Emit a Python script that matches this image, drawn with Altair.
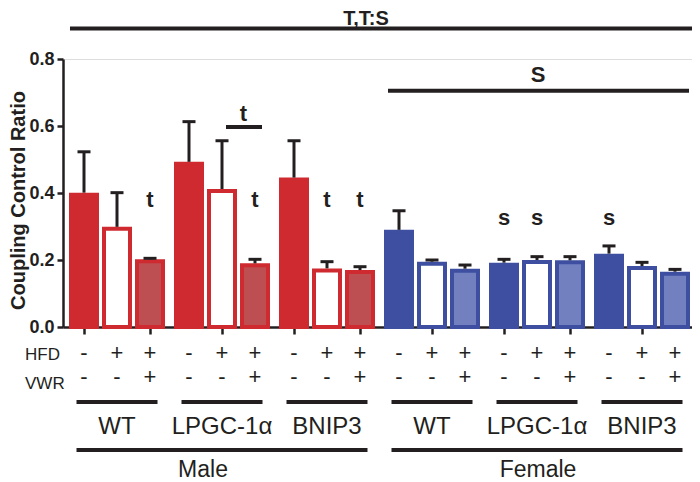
import altair as alt
import pandas as pd

# ---------------- data ----------------
sexes = ["Male", "Female"]
genotypes = ["WT", "LPGC-1α", "BNIP3"]
hfd_signs = ["-", "+", "+"]
vwr_signs = ["-", "-", "+"]

male_mean = [0.401, 0.299, 0.202, 0.493, 0.412, 0.190, 0.446, 0.175, 0.170]
male_sem = [0.122, 0.102, 0.003, 0.120, 0.144, 0.012, 0.110, 0.020, 0.010]
female_mean = [0.290, 0.195, 0.174, 0.192, 0.200, 0.199, 0.219, 0.182, 0.165]
female_sem = [0.057, 0.005, 0.011, 0.010, 0.010, 0.011, 0.023, 0.011, 0.007]

t_marks = [("Male", 2), ("Male", 5), ("Male", 7), ("Male", 8)]
s_marks = [("Female", 3), ("Female", 4), ("Female", 6)]

# ---------------- layout ----------------
RED, BLUE = "#cf2a2f", "#3e4fa1"
RED_HATCH, BLUE_HATCH = "#bd4e52", "#7380c0"
INK = "#231f20"
FONT = "Liberation Sans"
GROUP_STEP, BAR_STEP, X0, HALF = 105, 33, 21, 15
XMAX = 629
kinds = ["solid", "open", "hatch"]

rows = []
for s_i, sex in enumerate(sexes):
    means = male_mean if s_i == 0 else female_mean
    sems = male_sem if s_i == 0 else female_sem
    for g_i, gen in enumerate(genotypes):
        for b in range(3):
            k = g_i * 3 + b
            pos = X0 + (s_i * 3 + g_i) * GROUP_STEP + b * BAR_STEP
            rows.append(dict(
                pos=pos, xl=pos - HALF + 2, xr=pos + HALF - 2,
                mean=means[k], ytop=means[k] - 0.006, top=means[k] + sems[k],
                capl=pos - 6.5, capr=pos + 6.5,
                sex=sex, gen=gen, idx=k, kind=kinds[b],
                fillkey=f"{sex}-{kinds[b]}",
                hfd=hfd_signs[b], vwr=vwr_signs[b],
            ))
df = pd.DataFrame(rows)

xscale = alt.Scale(domain=[0, XMAX], nice=False, zero=False)
yscale = alt.Scale(domain=[0, 0.8], nice=False, zero=False)

fill_dom = ["Male-solid", "Male-open", "Male-hatch", "Female-solid", "Female-open", "Female-hatch"]
fill_rng = [RED, "white", RED_HATCH, BLUE, "white", BLUE_HATCH]

bars = alt.Chart(df).mark_rect(strokeWidth=4).encode(
    x=alt.X("xl:Q", scale=xscale,
            axis=alt.Axis(values=df["pos"].tolist(), labels=False, tickSize=7,
                          tickWidth=2.5, tickColor=INK, domainColor=INK,
                          domainWidth=2.5, grid=False, title=None)),
    x2="xr:Q",
    y=alt.Y("ytop:Q", scale=yscale,
            axis=alt.Axis(values=[0, 0.2, 0.4, 0.6, 0.8], format=".1f",
                          labelFont=FONT, labelFontWeight="bold", labelFontSize=18,
                          labelColor=INK, labelPadding=3, tickSize=6, tickWidth=2.5,
                          tickColor=INK, domainColor=INK, domainWidth=2.5,
                          grid=False, title="Coupling Control Ratio",
                          titleFont=FONT, titleFontWeight="bold", titleFontSize=20,
                          titleColor=INK, titleX=-39, titleY=141,
                          titleBaseline="alphabetic", titleAngle=270)),
    y2=alt.datum(0),
    fill=alt.Fill("fillkey:N", scale=alt.Scale(domain=fill_dom, range=fill_rng), legend=None),
    stroke=alt.Stroke("sex:N", scale=alt.Scale(domain=sexes, range=[RED, BLUE]), legend=None),
)

err = alt.Chart(df).mark_rule(strokeWidth=3, color=INK).encode(
    x=alt.X("pos:Q", scale=xscale), y=alt.Y("mean:Q", scale=yscale), y2="top:Q")
caps = alt.Chart(df).mark_rule(strokeWidth=3, color=INK).encode(
    x=alt.X("capl:Q", scale=xscale), x2="capr:Q", y=alt.Y("top:Q", scale=yscale))

def pos_of(sex, idx):
    r = df[(df.sex == sex) & (df.idx == idx)].iloc[0]
    return r.pos

t_df = pd.DataFrame([dict(x=pos_of(s, i), y=0.358, label="t") for s, i in t_marks] +
                    [dict(x=pos_of(s, i), y=0.304, label="s") for s, i in s_marks])
letters = alt.Chart(t_df).mark_text(font=FONT, fontWeight="bold", fontSize=22,
                                    color=INK, baseline="alphabetic").encode(
    x=alt.X("x:Q", scale=xscale), y=alt.Y("y:Q", scale=yscale), text="label:N")

male_lpgc = df[(df.sex == "Male") & (df.gen == "LPGC-1α")]
fem = df[df.sex == "Female"]
br_df = pd.DataFrame([
    dict(x=7, x2=XMAX, y=0.891),
    dict(x=fem.pos.min() - 11, x2=XMAX - 3, y=0.705),
    dict(x=male_lpgc.pos.iloc[1] + 4, x2=male_lpgc.pos.iloc[2] + 7, y=0.597),
])
brackets = alt.Chart(br_df).mark_rule(strokeWidth=4, color=INK).encode(
    x=alt.X("x:Q", scale=xscale), x2="x2:Q", y=alt.Y("y:Q", scale=yscale))
br_txt_df = pd.DataFrame([
    dict(x=303, y=0.9015, label="T,T:S", size=20),
    dict(x=475, y=0.731, label="S", size=22),
    dict(x=(male_lpgc.pos.iloc[1] + male_lpgc.pos.iloc[2]) / 2 + 5, y=0.616, label="t", size=22),
])
br_txt = alt.Chart(br_txt_df).mark_text(font=FONT, fontWeight="bold",
                                        color=INK, baseline="alphabetic").encode(
    x=alt.X("x:Q", scale=xscale), y=alt.Y("y:Q", scale=yscale), text="label:N",
    size=alt.Size("size:Q", scale=None, legend=None))

hfd_txt = alt.Chart(df).mark_text(font=FONT, fontSize=22, color=INK, baseline="middle").encode(
    x=alt.X("pos:Q", scale=xscale), y=alt.datum(-0.078), text="hfd:N")
vwr_txt = alt.Chart(df).mark_text(font=FONT, fontSize=22, color=INK, baseline="middle").encode(
    x=alt.X("pos:Q", scale=xscale), y=alt.datum(-0.150), text="vwr:N")
row_lab_df = pd.DataFrame([dict(x=-38, y=-0.0985, label="HFD"), dict(x=-38, y=-0.185, label="VWR")])
row_lab = alt.Chart(row_lab_df).mark_text(font=FONT, fontSize=17, color=INK, align="left",
                                          baseline="alphabetic").encode(
    x=alt.X("x:Q", scale=xscale), y=alt.Y("y:Q", scale=yscale), text="label:N")

grp = df[df.idx % 3 == 1][["pos", "gen", "sex"]].copy()
grp["xa"] = grp.pos - 40.5
grp["xb"] = grp.pos + 40.5
grp_lines = alt.Chart(grp).mark_rule(strokeWidth=4, color=INK).encode(
    x=alt.X("xa:Q", scale=xscale), x2="xb:Q", y=alt.datum(-0.224))
grp_txt = alt.Chart(grp).mark_text(font=FONT, fontSize=24, color=INK, baseline="alphabetic").encode(
    x=alt.X("pos:Q", scale=xscale), y=alt.datum(-0.319), text="gen:N")

sex_df = pd.DataFrame([
    dict(xa=grp[grp.sex == s].pos.min() - 40.5, xb=grp[grp.sex == s].pos.max() + 40.5,
         lx=lx, label=s) for s, lx in zip(sexes, [140, 475])])
sex_lines = alt.Chart(sex_df).mark_rule(strokeWidth=4, color=INK).encode(
    x=alt.X("xa:Q", scale=xscale), x2="xb:Q", y=alt.datum(-0.367))
sex_txt = alt.Chart(sex_df).mark_text(font=FONT, fontSize=23, color=INK, baseline="alphabetic").encode(
    x=alt.X("lx:Q", scale=xscale), y=alt.datum(-0.447), text="label:N")

chart = alt.layer(
    bars, err, caps, letters, brackets, br_txt, hfd_txt, vwr_txt, row_lab,
    grp_lines, grp_txt, sex_lines, sex_txt,
).properties(
    width=XMAX, height=268,
    autosize=alt.AutoSizeParams(type="none"),
    padding={"left": 55, "top": 51, "right": 0, "bottom": 155},
).configure_view(stroke=None).configure(background="white")

chart.save("out.html", embed_options={"renderer": "svg", "actions": False})
